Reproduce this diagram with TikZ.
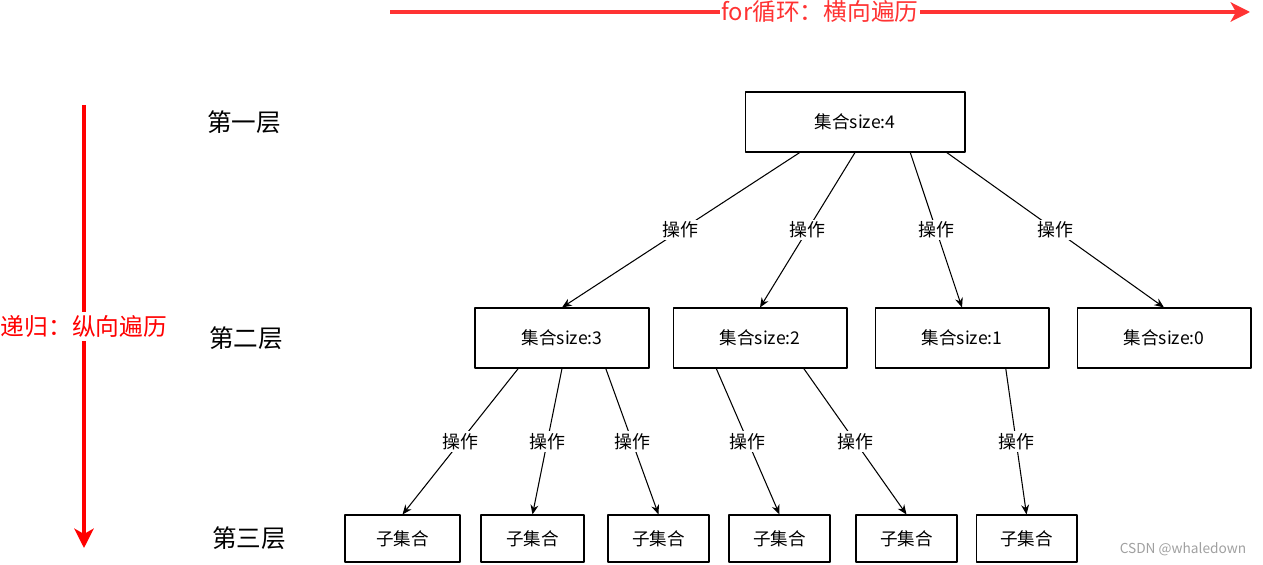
\documentclass[tikz,border=0pt]{standalone}
\usepackage{fontspec}
\setmainfont{Noto Sans CJK SC}
\usetikzlibrary{arrows.meta,calc}
\definecolor{hred}{HTML}{FF3333}
\definecolor{vred}{HTML}{FF0000}
\definecolor{wmark}{HTML}{A0A0A0}

\begin{document}
\begin{tikzpicture}[x=0.02cm,y=-0.02cm,line width=0.6pt,line join=round,
  setbox/.style={draw,inner sep=0pt,minimum width=3.48cm,minimum height=1.2cm,font=\fontsize{10}{12}\selectfont},
  topbox/.style={setbox,minimum width=4.4cm},
  subbox/.style={draw,inner sep=0pt,minimum width=2.02cm,minimum height=0.94cm,font=\fontsize{10}{12}\selectfont},
  layer/.style={font=\fontsize{14}{16}\selectfont},
  op/.style={-{Stealth[length=5.5pt,width=4.5pt]}},
  oplabel/.style={midway,fill=white,inner sep=1pt,font=\fontsize{10.2}{12}\selectfont},
  bigarrow/.style={line width=2.3pt,-{Stealth[length=11pt,width=11pt,inset=3pt]}},
  bigtext/.style={midway,fill=white,inner xsep=1pt,inner ysep=2pt,font=\fontsize{13.5}{16}\selectfont}]
\useasboundingbox (0,0) rectangle (1263,564);
\coordinate (hs) at (390,12);
\coordinate (he) at (1250,12);
\coordinate (vs) at (84,105);
\coordinate (ve) at (84,548);
\draw[bigarrow,hred] (hs) -- (he) node[bigtext,text=hred] {for循环：横向遍历};
\draw[bigarrow,vred] (vs) -- (ve) node[bigtext,text=vred] {递归：纵向遍历};
\node[layer] (l1) at (244,122) {第一层};
\node[layer] (l2) at (246,338) {第二层};
\node[layer] (l3) at (249,538) {第三层};
\node[topbox] (s4) at (855,122) {集合size:4};
\node[setbox] (s3) at (562,338) {集合size:3};
\node[setbox] (s2) at (760,338) {集合size:2};
\node[setbox] (s1) at (962,338) {集合size:1};
\node[setbox] (s0) at (1164,338) {集合size:0};
\node[subbox,minimum width=2.3cm] (c1) at (402.5,538.5) {子集合};
\node[subbox,minimum width=2.06cm] (c2) at (532.5,538.5) {子集合};
\node[subbox] (c3) at (658.5,538.5) {子集合};
\node[subbox] (c4) at (779.5,538.5) {子集合};
\node[subbox] (c5) at (906.5,538.5) {子集合};
\node[subbox] (c6) at (1026.5,538.5) {子集合};
\draw[op] ($(s4.south west)!.25!(s4.south east)$) -- (s3.north) node[oplabel] {操作};
\draw[op] (s4.south) -- (s2.north) node[oplabel] {操作};
\draw[op] ($(s4.south west)!.75!(s4.south east)$) -- (s1.north) node[oplabel] {操作};
\draw[op] ($(s4.south west)!.915!(s4.south east)$) -- (s0.north) node[oplabel] {操作};
\draw[op] ($(s3.south west)!.25!(s3.south east)$) -- (c1.north) node[oplabel] {操作};
\draw[op] (s3.south) -- (c2.north) node[oplabel] {操作};
\draw[op] ($(s3.south west)!.75!(s3.south east)$) -- (c3.north) node[oplabel] {操作};
\draw[op] ($(s2.south west)!.25!(s2.south east)$) -- (c4.north) node[oplabel] {操作};
\draw[op] ($(s2.south west)!.75!(s2.south east)$) -- (c5.north) node[oplabel] {操作};
\draw[op] ($(s1.south west)!.75!(s1.south east)$) -- (c6.north) node[oplabel] {操作};
\node[text=wmark,font=\fontsize{7.8}{9}\selectfont] (wm) at (1183,549) {CSDN @whaledown};
\end{tikzpicture}
\end{document}
